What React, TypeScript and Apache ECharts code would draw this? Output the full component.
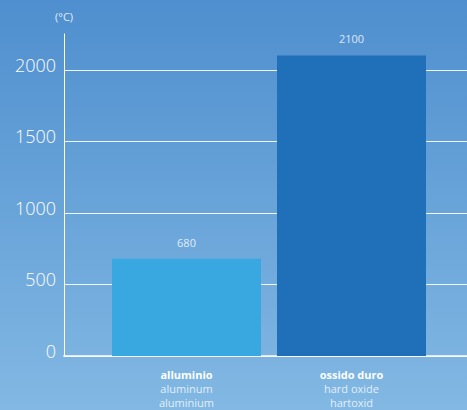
import React, { useEffect, useRef } from "react";
import * as echarts from "echarts";

const categories = ["alluminio", "ossido duro"];
const categoriesEn = ["aluminum", "hard oxide"];
const categoriesDe = ["aluminium", "hartoxid"];
const values = [680, 2100];
const barColors = ["#3aa8e0", "#1f70b8"];
const unitLabel = "(°C)";

export default function App() {
  const ref = useRef<HTMLDivElement>(null);
  useEffect(() => {
    if (!ref.current) return;
    const chart = echarts.init(ref.current, undefined, { renderer: "svg" });
    const font = "'Open Sans', sans-serif";
    chart.setOption({
      animation: false,
      backgroundColor: new echarts.graphic.LinearGradient(0, 0, 0, 1, [
        { offset: 0, color: "#4f8fcf" },
        { offset: 1, color: "#82b8e3" },
      ]),
      grid: [
        { left: 64, right: 0, top: 34, bottom: 54 },
        { left: 104, right: 33, top: 34, bottom: 54 },
      ],
      xAxis: [
        {
          gridIndex: 0,
          type: "category",
          data: [""],
          axisLine: { show: true, lineStyle: { color: "rgba(255,255,255,0.75)", width: 2 } },
          axisTick: { show: false },
          axisLabel: { show: false },
          splitLine: { show: false },
        },
        {
          gridIndex: 1,
          type: "category",
          data: categories,
          axisLine: { show: false },
          axisTick: { show: false },
          axisLabel: {
            margin: 11,
            interval: 0,
            formatter: (_v: string, i: number) =>
              `{b|${categories[i]}}\n{n|${categoriesEn[i]}}\n{n|${categoriesDe[i]}}`,
            rich: {
              b: { fontFamily: font, fontSize: 11, fontWeight: "bold", color: "#ffffff", lineHeight: 14 },
              n: { fontFamily: font, fontSize: 11, color: "rgba(255,255,255,0.8)", lineHeight: 14 },
            },
          },
        },
      ],
      yAxis: [
        {
          gridIndex: 0,
          type: "value",
          min: 0,
          max: 2250,
          interval: 500,
          name: unitLabel,
          nameLocation: "end",
          nameGap: 12,
          nameTextStyle: { fontFamily: font, fontSize: 11, color: "rgba(255,255,255,0.85)", align: "center" },
          axisLine: { show: true, lineStyle: { color: "#ffffff", width: 1 } },
          axisTick: { show: false },
          axisLabel: {
            showMaxLabel: false,
            margin: 8,
            fontFamily: font,
            fontSize: 18,
            fontWeight: 300,
            color: "#ffffff",
            verticalAlign: "bottom",
            lineHeight: 20,
            padding: [0, 0, -5, 0],
            formatter: (v: number) => String(v),
          },
          splitLine: {
            show: true,
            showMaxLine: false,
            lineStyle: { color: "rgba(255,255,255,0.9)", width: 1 },
          },
        },
        {
          gridIndex: 1,
          type: "value",
          min: 0,
          max: 2250,
          interval: 500,
          show: false,
          splitLine: { show: false },
        },
      ],
      series: [
        {
          type: "bar",
          xAxisIndex: 1,
          yAxisIndex: 1,
          barWidth: 149,
          data: values.map((v, i) => ({ value: v, itemStyle: { color: barColors[i] } })),
          label: {
            show: true,
            position: "top",
            distance: 11,
            fontFamily: font,
            fontSize: 11,
            color: "rgba(255,255,255,0.8)",
          },
        },
      ],
    });
    return () => chart.dispose();
  }, []);
  return (
    <div
      ref={ref}
      style={{ position: "absolute", left: 0, top: 0, width: 467, height: 410 }}
    />
  );
}
